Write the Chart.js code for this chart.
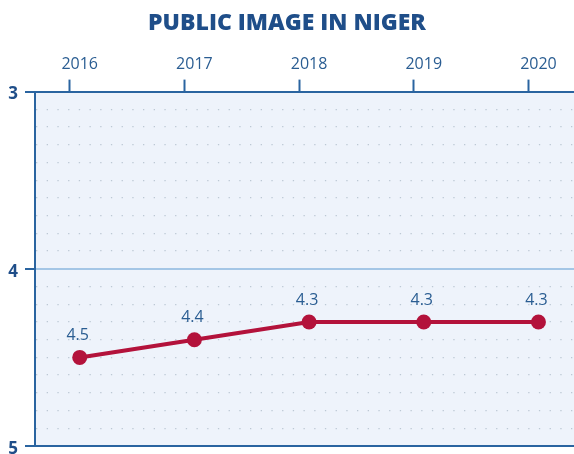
<!DOCTYPE html>
<html>
<head>
<meta charset="utf-8">
<script src="https://cdn.jsdelivr.net/npm/chart.js@4"></script>
<style>
html,body{margin:0;padding:0;background:#fff;}
#wrap{width:574px;height:454px;}
</style>
</head>
<body>
<div id="wrap"><canvas id="c"></canvas></div>
<script>
const chartTitle = "PUBLIC IMAGE IN NIGER";
const years = ["2016", "2017", "2018", "2019", "2020"];
const values = [4.5, 4.4, 4.3, 4.3, 4.3];
const yTicks = [3, 4, 5];

const DARK = '#2a64a0';
const TEXT = '#2a5d92';
const RED = '#b3123b';

const bgPlugin = {
  id: 'bg',
  beforeDraw(chart) {
    const {ctx, chartArea: a} = chart;
    ctx.save();
    ctx.fillStyle = '#eef3fb';
    ctx.fillRect(a.left, a.top, a.right - a.left, a.bottom - a.top);
    ctx.restore();
  }
};

const labelPlugin = {
  id: 'vlabels',
  afterDatasetsDraw(chart) {
    const {ctx} = chart;
    const meta = chart.getDatasetMeta(0);
    ctx.save();
    ctx.font = '16px "Open Sans"';
    ctx.fillStyle = TEXT;
    ctx.textAlign = 'center';
    ctx.textBaseline = 'middle';
    meta.data.forEach((pt, i) => {
      ctx.fillText(values[i].toFixed(1), pt.x - 2, pt.y - 22);
    });
    ctx.restore();
  }
};

const isInt = v => Math.abs(v - Math.round(v)) < 1e-6;

new Chart(document.getElementById('c'), {
  type: 'line',
  data: {
    datasets: [{
      data: values.map((v, i) => ({x: i, y: v})),
      borderColor: RED,
      backgroundColor: RED,
      borderWidth: 4,
      pointRadius: 7.5,
      pointHoverRadius: 7.5,
      pointBorderWidth: 0,
      tension: 0
    }]
  },
  options: {
    responsive: true,
    maintainAspectRatio: false,
    animation: false,
    layout: {autoPadding: false, padding: {left: 0, right: 0, top: 0, bottom: 8}},
    plugins: {
      legend: {display: false},
      tooltip: {enabled: false},
      title: {
        display: true,
        text: chartTitle,
        color: '#1f4e89',
        font: {family: '"Open Sans"', size: 23, weight: '800'},
        padding: {top: 10, bottom: 6}
      }
    },
    scales: {
      x: {
        type: 'linear',
        position: 'top',
        weight: 1,
        min: -0.39,
        max: 4.31,
        grid: {display: false, drawTicks: false},
        border: {display: false},
        ticks: {
          stepSize: 1,
          includeBounds: false,
          padding: 6,
          color: TEXT,
          font: {family: '"Open Sans"', size: 16},
          maxRotation: 0,
          callback: v => years[v] !== undefined ? years[v] : ''
        },
        afterFit: s => { s.height = 36; }
      },
      x2: {
        type: 'linear',
        position: 'top',
        weight: 0,
        min: -0.303,
        max: 4.397,
        grid: {drawOnChartArea: false, drawTicks: true, tickLength: 12, tickColor: DARK, tickWidth: 2},
        border: {display: true, color: DARK, width: 2},
        ticks: {display: false, stepSize: 1, includeBounds: false},
        afterFit: s => { s.height = 12; }
      },
      y: {
        type: 'linear',
        reverse: true,
        min: 3,
        max: 5,
        border: {
          display: true, color: DARK, width: 2,
          dash: ctx => (ctx.tick && !isInt(ctx.tick.value)) ? [1.3, 9.4] : []
        },
        grid: {
          color: ctx => {
            const v = ctx.tick ? ctx.tick.value : 0;
            if (!isInt(v)) return '#bcc8d4';
            if (Math.round(v) === 4) return '#a4c6e6';
            return DARK;
          },
          lineWidth: ctx => {
            const v = ctx.tick ? ctx.tick.value : 0;
            return isInt(v) ? 2 : 1.3;
          },
          drawTicks: true,
          tickLength: 10,
          tickWidth: 2,
          tickColor: ctx => (ctx.tick && isInt(ctx.tick.value)) ? DARK : 'rgba(0,0,0,0)'
        },
        ticks: {
          stepSize: 0.1,
          autoSkip: false,
          padding: 7,
          labelOffset: 3,
          color: '#1f4e89',
          font: {family: '"Open Sans"', size: 17, weight: '700'},
          callback: v => (isInt(v) && yTicks.includes(Math.round(v))) ? String(Math.round(v)) : ''
        },
        afterFit: s => { s.width = 35; s.paddingTop = 0; s.paddingBottom = 0; }
      }
    }
  },
  plugins: [bgPlugin, labelPlugin]
});
</script>
</body>
</html>
